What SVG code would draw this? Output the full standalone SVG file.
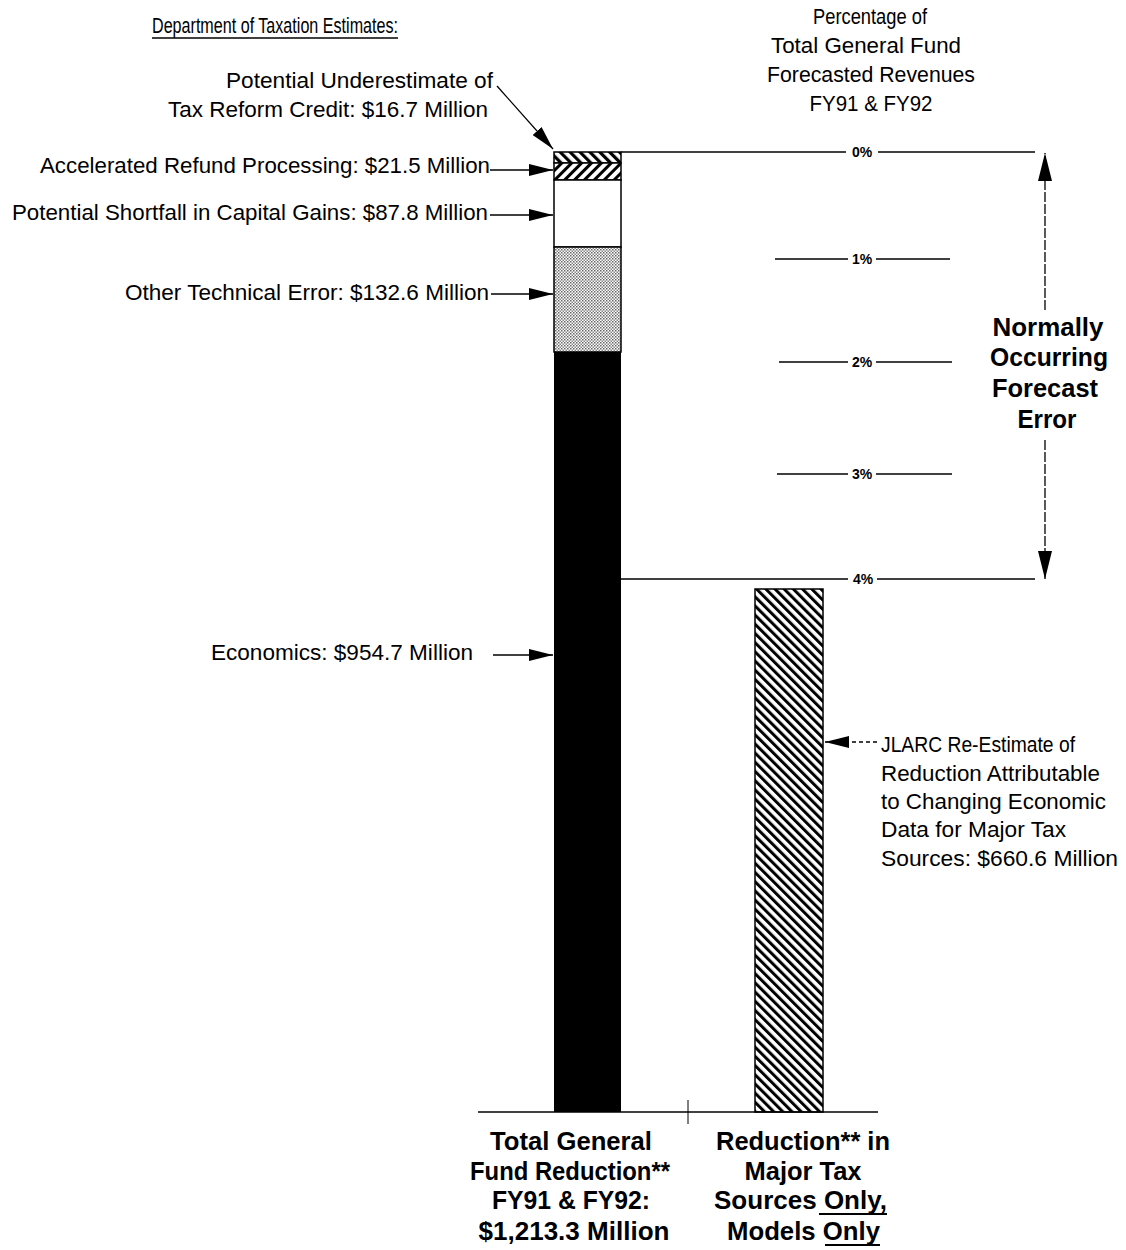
<svg xmlns="http://www.w3.org/2000/svg" width="1126" height="1250" viewBox="0 0 1126 1250">
<style>
.t{font-family:"Liberation Sans",Arial,sans-serif;font-size:21.5px;fill:#000}
.b{font-family:"Liberation Sans",Arial,sans-serif;font-size:25px;font-weight:bold;fill:#000}
.p{font-family:"Liberation Sans",Arial,sans-serif;font-size:14px;font-weight:bold;fill:#000}
.ln{stroke:#000;stroke-width:1.5;fill:none}
.ar{stroke:#000;stroke-width:1.3;fill:none}
</style>
<defs>
<marker id="ahL" viewBox="0 0 24 12" refX="24" refY="6" markerWidth="24" markerHeight="12" markerUnits="userSpaceOnUse" orient="auto">
<path d="M0,0 L24,6 L0,12 Z" fill="#000"/>
</marker>
<marker id="ahV" viewBox="0 0 28 14" refX="28" refY="7" markerWidth="28" markerHeight="14" markerUnits="userSpaceOnUse" orient="auto">
<path d="M0,0 L28,7 L0,14 Z" fill="#000"/>
</marker>
<pattern id="hb" patternUnits="userSpaceOnUse" width="7" height="7" patternTransform="rotate(-45)">
<rect width="7" height="7" fill="#fff"/><rect width="3.2" height="7" fill="#000"/>
</pattern>
<pattern id="hf" patternUnits="userSpaceOnUse" width="7" height="7" patternTransform="rotate(45)">
<rect width="7" height="7" fill="#fff"/><rect width="3" height="7" fill="#000"/>
</pattern>
<pattern id="hr" patternUnits="userSpaceOnUse" width="6.5" height="6.5" patternTransform="rotate(-45)">
<rect width="6.5" height="6.5" fill="#fff"/><rect width="3" height="6.5" fill="#000"/>
</pattern>
<pattern id="dt" patternUnits="userSpaceOnUse" width="3" height="3">
<rect width="3" height="3" fill="#fff"/><rect width="1.5" height="1.5" fill="#666"/><rect x="1.5" y="1.5" width="1.5" height="1.5" fill="#888"/>
</pattern>
</defs>

<g id="headings">
<text class="t" x="152" y="33" textLength="246" lengthAdjust="spacingAndGlyphs">Department of Taxation Estimates:</text>
<line x1="152" y1="38" x2="398" y2="38" stroke="#000" stroke-width="1.3"/>
<text class="t" x="870" y="24" text-anchor="middle" textLength="114" lengthAdjust="spacingAndGlyphs">Percentage of</text>
<text class="t" x="866" y="53" text-anchor="middle" textLength="190" lengthAdjust="spacingAndGlyphs">Total General Fund</text>
<text class="t" x="871" y="82" text-anchor="middle" textLength="208" lengthAdjust="spacingAndGlyphs">Forecasted Revenues</text>
<text class="t" x="871" y="111" text-anchor="middle" textLength="123" lengthAdjust="spacingAndGlyphs">FY91 &amp; FY92</text>
</g>

<g id="bar-total">
<rect x="554" y="152" width="67" height="11" fill="url(#hb)" stroke="#000" stroke-width="1.5"/>
<rect x="554" y="163" width="67" height="17" fill="url(#hf)" stroke="#000" stroke-width="1.5"/>
<rect x="554" y="180" width="67" height="67" fill="#fff" stroke="#000" stroke-width="1.5"/>
<rect x="554" y="247" width="67" height="105" fill="url(#dt)" stroke="#000" stroke-width="1.5"/>
<rect x="554" y="352" width="67" height="760" fill="#000"/>
</g>

<g id="bar-major">
<rect x="755" y="589" width="68" height="523" fill="url(#hr)" stroke="#000" stroke-width="1.5"/>
</g>

<g id="axis">
<line class="ln" x1="478" y1="1112" x2="878" y2="1112"/>
<line x1="688" y1="1100" x2="688" y2="1124" stroke="#000" stroke-width="1"/>
<line class="ln" x1="621" y1="152" x2="846" y2="152"/>
<line class="ln" x1="878" y1="152" x2="1035" y2="152"/>
<text class="p" x="862" y="157" text-anchor="middle">0%</text>
<line class="ln" x1="775" y1="259" x2="848" y2="259"/>
<line class="ln" x1="876" y1="259" x2="950" y2="259"/>
<text class="p" x="862" y="264" text-anchor="middle">1%</text>
<line class="ln" x1="779" y1="362" x2="848" y2="362"/>
<line class="ln" x1="876" y1="362" x2="952" y2="362"/>
<text class="p" x="862" y="367" text-anchor="middle">2%</text>
<line class="ln" x1="777" y1="474" x2="848" y2="474"/>
<line class="ln" x1="876" y1="474" x2="952" y2="474"/>
<text class="p" x="862" y="479" text-anchor="middle">3%</text>
<line class="ln" x1="621" y1="579" x2="848" y2="579"/>
<line class="ln" x1="877" y1="579" x2="1035" y2="579"/>
<text class="p" x="863" y="584" text-anchor="middle">4%</text>
</g>

<g id="labels-left">
<text class="t" x="493" y="88" text-anchor="end" textLength="267" lengthAdjust="spacingAndGlyphs">Potential Underestimate of</text>
<text class="t" x="488" y="117" text-anchor="end" textLength="320" lengthAdjust="spacingAndGlyphs">Tax Reform Credit:  $16.7 Million</text>
<text class="t" x="490" y="173" text-anchor="end" textLength="450" lengthAdjust="spacingAndGlyphs">Accelerated Refund Processing:  $21.5 Million</text>
<text class="t" x="488" y="220" text-anchor="end" textLength="476" lengthAdjust="spacingAndGlyphs">Potential Shortfall in Capital Gains:  $87.8 Million</text>
<text class="t" x="489" y="300" text-anchor="end" textLength="364" lengthAdjust="spacingAndGlyphs">Other Technical Error:  $132.6 Million</text>
<text class="t" x="473" y="660" text-anchor="end" textLength="262" lengthAdjust="spacingAndGlyphs">Economics:  $954.7 Million</text>
</g>

<g id="label-jlarc">
<text class="t" x="881" y="752" textLength="194" lengthAdjust="spacingAndGlyphs">JLARC Re-Estimate of</text>
<text class="t" x="881" y="781" textLength="219" lengthAdjust="spacingAndGlyphs">Reduction Attributable</text>
<text class="t" x="881" y="809" textLength="225" lengthAdjust="spacingAndGlyphs">to Changing Economic</text>
<text class="t" x="881" y="837" textLength="185" lengthAdjust="spacingAndGlyphs">Data for Major Tax</text>
<text class="t" x="881" y="866" textLength="237" lengthAdjust="spacingAndGlyphs">Sources:  $660.6 Million</text>
</g>

<g id="label-normal">
<text class="b" x="1048" y="336" text-anchor="middle" textLength="111" lengthAdjust="spacingAndGlyphs">Normally</text>
<text class="b" x="1049" y="366" text-anchor="middle" textLength="118" lengthAdjust="spacingAndGlyphs">Occurring</text>
<text class="b" x="1045" y="397" text-anchor="middle" textLength="106" lengthAdjust="spacingAndGlyphs">Forecast</text>
<text class="b" x="1047" y="428" text-anchor="middle" textLength="59" lengthAdjust="spacingAndGlyphs">Error</text>
</g>

<g id="labels-bottom">
<text class="b" x="571" y="1150" text-anchor="middle" textLength="162" lengthAdjust="spacingAndGlyphs">Total General</text>
<text class="b" x="570" y="1180" text-anchor="middle" textLength="200" lengthAdjust="spacingAndGlyphs">Fund Reduction**</text>
<text class="b" x="571" y="1209" text-anchor="middle" textLength="158" lengthAdjust="spacingAndGlyphs">FY91 &amp; FY92:</text>
<text class="b" x="574" y="1240" text-anchor="middle" textLength="191" lengthAdjust="spacingAndGlyphs">$1,213.3 Million</text>
<text class="b" x="803" y="1150" text-anchor="middle" textLength="174" lengthAdjust="spacingAndGlyphs">Reduction** in</text>
<text class="b" x="803" y="1180" text-anchor="middle" textLength="117" lengthAdjust="spacingAndGlyphs">Major Tax</text>
<text class="b" x="714" y="1209" textLength="173" lengthAdjust="spacingAndGlyphs">Sources Only,</text>
<line x1="819" y1="1214" x2="887" y2="1214" stroke="#000" stroke-width="2"/>
<text class="b" x="727" y="1240" textLength="153" lengthAdjust="spacingAndGlyphs">Models Only</text>
<line x1="825" y1="1245" x2="880" y2="1245" stroke="#000" stroke-width="2"/>
</g>

<g id="connectors">
<line class="ar" x1="497" y1="86" x2="553" y2="149" marker-end="url(#ahL)"/>
<line class="ar" x1="490" y1="170" x2="553" y2="170" marker-end="url(#ahL)"/>
<line class="ar" x1="490" y1="215" x2="553" y2="215" marker-end="url(#ahL)"/>
<line class="ar" x1="491" y1="294" x2="553" y2="294" marker-end="url(#ahL)"/>
<line class="ar" x1="493" y1="655" x2="553" y2="655" marker-end="url(#ahL)"/>
<line class="ar" x1="877" y1="742" x2="825" y2="742" stroke-dasharray="4,3" marker-end="url(#ahL)"/>
<line class="ar" x1="1045" y1="310" x2="1045" y2="153" stroke-dasharray="10,2" marker-end="url(#ahV)"/>
<line class="ar" x1="1045" y1="440" x2="1045" y2="579" stroke-dasharray="10,2" marker-end="url(#ahV)"/>
</g>
</svg>
